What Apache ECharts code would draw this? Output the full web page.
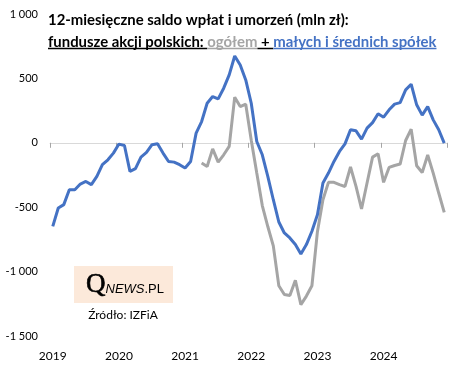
<!DOCTYPE html>
<html>
<head>
<meta charset="utf-8">
<script src="https://cdn.jsdelivr.net/npm/echarts@6/dist/echarts.min.js"></script>
<style>html,body{margin:0;padding:0;background:#fff}#c{width:460px;height:371px}</style>
</head>
<body>
<div id="c"></div>
<script>
// ---- data ----
const months = [];
for (let y = 2019; y <= 2024; y++) for (let m = 1; m <= 12; m++) months.push(y + '-' + (m < 10 ? '0' + m : m));

const yTicks = [-1500, -1000, -500, 0, 500, 1000];

const smallMid = [
  -649, -506, -480, -364, -364, -320, -300, -325, -261, -170, -132, -80,
  -10, -21, -222, -201, -111, -75, -15, -8, -80, -145, -150, -170,
  -196, -145, 75, 165, 307, 359, 341, 424, 527, 674, 604, 488,
  307, 10, -93, -261, -442, -615, -700, -739, -790, -863, -790, -687,
  -558, -312, -235, -145, -67, -8, 101, 93, 29, 114, 157, 225,
  199, 256, 300, 312, 411, 455, 295, 215, 281, 178, 101, -2
];

const total = [
  null, null, null, null, null, null, null, null, null, null, null, null,
  null, null, null, null, null, null, null, null, null, null, null, null,
  null, null, null, -157, -184, -47, -150, -93, -28, 354, 281, 300,
  20, -235, -487, -650, -800, -1110, -1178, -1186, -1067, -1256, -1190, -1110,
  -690, -442, -307, -307, -325, -339, -188, -339, -514, -312, -111, -85,
  -307, -191, -176, -165, 18, 106, -178, -230, -95, -235, -390, -540
];

const titleLine1 = '12-miesięczne saldo wpłat i umorzeń (mln zł):';
const titleParts = ['fundusze akcji polskich: ', 'ogółem', ' + ', 'małych i średnich spółek'];
const sourceText = 'Źródło: IZFiA';

// ---- styles ----
const BLUE = '#4472C4', GRAY = '#A5A5A5', BLACK = '#000';
const partColors = [BLACK, GRAY, BLACK, BLUE];
const titleFont = 'bold 14.9px Lato';

const ctx = document.createElement('canvas').getContext('2d');
ctx.font = titleFont;

const tx = 48, l2y = 42;
const graphics = [];
graphics.push({ type: 'text', x: tx, y: 20, style: { text: titleLine1, font: titleFont, fill: BLACK, verticalAlign: 'middle' } });
let cx = tx;
const richStyles = {};
let richText = '';
titleParts.forEach((p, i) => {
  const w = ctx.measureText(p).width;
  richStyles['p' + i] = { font: titleFont, fill: partColors[i] };
  richText += '{p' + i + '|' + p + '}';
  graphics.push({ type: 'line', shape: { x1: cx, y1: l2y + 6.5, x2: cx + w, y2: l2y + 6.5 }, style: { stroke: partColors[i], lineWidth: 1.5 } });
  cx += w;
});
graphics.push({ type: 'text', x: tx, y: l2y, style: { text: richText, rich: richStyles, verticalAlign: 'middle', font: titleFont } });

// logo
graphics.push({ type: 'rect', shape: { x: 74, y: 266, width: 99, height: 37 }, style: { fill: '#FCE9DA' } });
graphics.push({ type: 'text', x: 86, y: 293, style: {
  text: '{q|Q}{n|NEWS}{p|.PL}', verticalAlign: 'bottom',
  rich: {
    q: { font: '27px "Liberation Serif"', fill: '#000', stroke: '#000', lineWidth: 0.6, verticalAlign: 'bottom', lineHeight: 26, padding: [0, 0, -5, 0] },
    n: { font: 'italic 13px "Liberation Sans"', fill: '#000', verticalAlign: 'bottom', lineHeight: 26 , padding: [0, 0, -3, 0]},
    p: { font: '13px "Liberation Sans"', fill: '#000', verticalAlign: 'bottom', lineHeight: 26 , padding: [0, 0, -3, 0]}
  }
} });
graphics.push({ type: 'text', x: 123, y: 315, style: { text: sourceText, font: '12px Lato', fill: '#000', align: 'center', verticalAlign: 'middle' } });

const fmt = v => String(v).replace(/\B(?=(\d{3})+(?!\d))/g, ' ');

const chart = echarts.init(document.getElementById('c'), null, { renderer: 'canvas' });
chart.setOption({
  animation: false,
  grid: { left: 50, right: 13, top: 14, bottom: 35, containLabel: false },
  xAxis: [
    {
      type: 'category', data: months, boundaryGap: true, position: 'bottom',
      axisLine: { onZero: true, lineStyle: { color: '#D9D9D9', width: 1 } },
      axisTick: { show: true, interval: 11, length: 5, lineStyle: { color: '#A6A6A6', width: 1 } },
      axisLabel: { show: false }, splitLine: { show: false }
    },
    {
      type: 'category', data: months, boundaryGap: true, position: 'bottom',
      axisLine: { show: false, onZero: false }, axisTick: { show: false }, splitLine: { show: false },
      axisLabel: { interval: 11, margin: 14, color: '#000', fontSize: 12, fontFamily: 'Lato', formatter: v => v.slice(0, 4) }
    }
  ],
  yAxis: {
    type: 'value', min: yTicks[0], max: yTicks[yTicks.length - 1], interval: 500,
    axisLine: { show: false }, axisTick: { show: false }, splitLine: { show: false },
    axisLabel: { margin: 12, color: '#000', fontSize: 11, fontFamily: 'Lato', formatter: fmt }
  },
  series: [
    { name: 'ogółem', type: 'line', data: total, symbol: 'none', connectNulls: false,
      lineStyle: { color: GRAY, width: 3 }, itemStyle: { color: GRAY }, xAxisIndex: 0 },
    { name: 'MiS', type: 'line', data: smallMid, symbol: 'none',
      lineStyle: { color: BLUE, width: 3 }, itemStyle: { color: BLUE }, xAxisIndex: 0 }
  ],
  graphic: graphics
});
</script>
</body>
</html>
